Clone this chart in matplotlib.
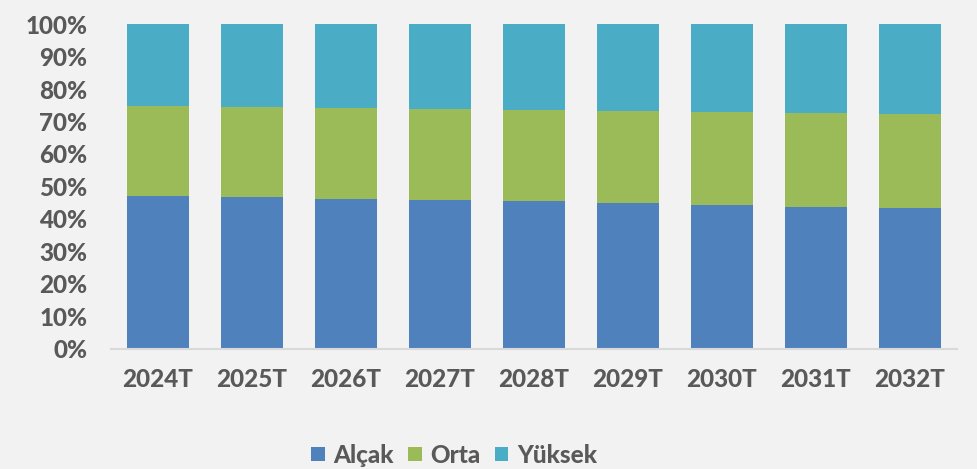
import matplotlib
matplotlib.use("Agg")
import matplotlib.pyplot as plt
import numpy as np
from matplotlib.ticker import FuncFormatter

categories = ["2024T", "2025T", "2026T", "2027T", "2028T", "2029T", "2030T", "2031T", "2032T"]
alcak = [47.1, 46.6, 46.2, 45.8, 45.4, 44.8, 44.3, 43.8, 43.4]
orta = [27.7, 27.9, 28.0, 28.1, 28.2, 28.4, 28.6, 28.8, 28.9]
yuksek = [25.2, 25.5, 25.8, 26.1, 26.4, 26.8, 27.1, 27.4, 27.7]
series_names = ["Alçak", "Orta", "Yüksek"]
colors = ["#4f81bd", "#9bbb59", "#4bacc6"]

bg = "#f2f2f2"
txt = "#595959"
plt.rcParams["font.family"] = ["Lato", "DejaVu Sans"]
W = 900

fig = plt.figure(figsize=(9.78, 4.69), dpi=100, facecolor=bg)
ax = fig.add_axes([111 / 978, 1 - 348.5 / 469, (957 - 111) / 978, (348.5 - 24.3) / 469])
ax.set_facecolor(bg)

x = np.arange(len(categories))
w = 0.67
bottom = np.zeros(len(categories))
for vals, name, c in zip([alcak, orta, yuksek], series_names, colors):
    ax.bar(x, vals, w, bottom=bottom, color=c, label=name, edgecolor="none")
    bottom = bottom + np.array(vals)

ax.set_xlim(-0.5, len(categories) - 0.5)
ax.set_ylim(0, 100)
ax.set_yticks(np.arange(0, 101, 10))
ax.yaxis.set_major_formatter(FuncFormatter(lambda v, p: f"{int(v)}%"))
ax.set_xticks(x)
ax.set_xticklabels(categories)
for s in ["top", "right", "left"]:
    ax.spines[s].set_visible(False)
ax.spines["bottom"].set_color("#d9d9d9")
ax.spines["bottom"].set_linewidth(1.5)
ax.tick_params(axis="both", length=0, colors=txt, labelsize=17.5)
ax.tick_params(axis="y", pad=17)
ax.tick_params(axis="x", pad=14)
for lab in ax.get_xticklabels() + ax.get_yticklabels():
    lab.set_fontweight(W)

leg = fig.legend(loc="center", bbox_to_anchor=(454 / 978, 1 - 455 / 469), ncol=3,
                 frameon=False, fontsize=17.5, handlelength=0.55, handleheight=0.55,
                 handletextpad=0.35, columnspacing=0.6)
for t in leg.get_texts():
    t.set_color(txt)
    t.set_fontweight(W)

fig.savefig("out.png", dpi=100, facecolor=bg)
